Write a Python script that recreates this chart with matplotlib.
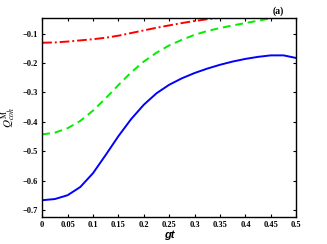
import matplotlib
matplotlib.use("Agg")
import matplotlib.pyplot as plt
from matplotlib.ticker import MultipleLocator, FuncFormatter

plt.rcParams["font.family"] = ["Liberation Serif", "DejaVu Serif"]
plt.rcParams["mathtext.fontset"] = "stix"

gt = [0, 0.025, 0.05, 0.075, 0.1, 0.125, 0.15, 0.175, 0.2, 0.225, 0.25,
      0.275, 0.3, 0.325, 0.35, 0.375, 0.4, 0.425, 0.45, 0.475, 0.5]
q_blue = [-0.667, -0.663, -0.650, -0.622, -0.575, -0.513, -0.449, -0.391,
          -0.342, -0.303, -0.274, -0.252, -0.234, -0.219, -0.206, -0.195,
          -0.186, -0.179, -0.174, -0.174, -0.183]
q_green = [-0.443, -0.437, -0.422, -0.397, -0.362, -0.320, -0.275, -0.232,
           -0.195, -0.165, -0.140, -0.121, -0.104, -0.091, -0.081, -0.072,
           -0.064, -0.056, -0.048, -0.040, -0.032]
q_red = [-0.131, -0.130, -0.127, -0.123, -0.119, -0.114, -0.107, -0.098,
         -0.089, -0.080, -0.072, -0.064, -0.057, -0.051, -0.046, -0.041,
         -0.036, -0.032, -0.028, -0.025, -0.022]

fig = plt.figure(figsize=(3.27, 2.44), dpi=100)
ax = fig.add_axes([0.129, 0.112, 0.777, 0.814])

kw = dict(lw=1.4, solid_joinstyle="round", dash_joinstyle="round")
ax.plot(gt, q_blue, color="#0000ff", ls="-", **kw)
ax.plot(gt, q_green, color="#00ee00", ls=(0, (4, 2.5)), **kw)
ax.plot(gt, q_red, color="#ff0000", ls=(0, (5, 1.5, 1, 1.5)), **kw)

ax.set_xlim(0, 0.5)
ax.set_ylim(-0.723, -0.047)
ax.xaxis.set_major_locator(MultipleLocator(0.05))
ax.yaxis.set_major_locator(MultipleLocator(0.1))
fmt = FuncFormatter(lambda v, p: f"{v:g}".replace("-", "\u2212") if abs(v) > 1e-9 else "0")
ax.xaxis.set_major_formatter(fmt)
ax.yaxis.set_major_formatter(fmt)
ax.tick_params(direction="in", length=2.5, width=0.8, top=True, right=True,
               labelsize=6, pad=3)
for lab in ax.get_xticklabels() + ax.get_yticklabels():
    lab.set_fontweight("bold")
for s in ax.spines.values():
    s.set_linewidth(1.0)

ax.set_xlabel("gt", family=["Liberation Sans"], fontweight="bold",
              fontstyle="italic", fontsize=8, labelpad=1)
ax.set_ylabel(r"$Q^{\mathrm{M}}_{coh}$", fontsize=8, labelpad=3)
fig.text(0.851, 0.955, "(a)", fontsize=7, fontweight="bold",
         ha="center", va="center")

fig.savefig("out.png", dpi=100)
